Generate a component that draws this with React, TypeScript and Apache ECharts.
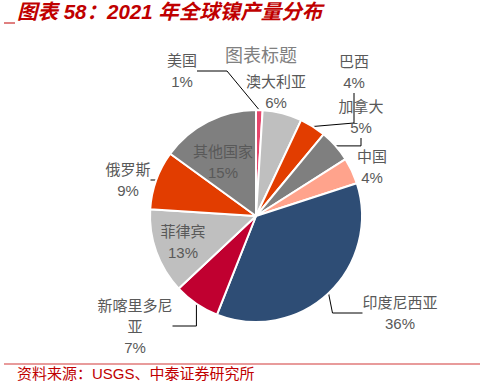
import React, { useEffect, useRef } from "react";
import * as echarts from "echarts";

const categories = ["美国", "澳大利亚", "巴西", "加拿大", "中国", "印度尼西亚", "新喀里多尼亚", "菲律宾", "俄罗斯", "其他国家"];
const shares = [1, 6, 4, 5, 4, 36, 7, 13, 9, 15];
const sliceColors = ["#e6456b", "#bfbfbf", "#e23d00", "#7f7f7f", "#ffa38c", "#2e4d75", "#c00030", "#bfbfbf", "#e23d00", "#7f7f7f"];
const noLeaderLabels = ["其他国家", "菲律宾", "澳大利亚", "中国"];
// label block centres (layout only)
const labelPos: [number, number][] = [
  [182, 71], [276, 92], [354, 72], [361, 117], [372, 167],
  [400, 313], [135, 326], [183, 242], [128, 180], [223, 162],
];

const mainTitle = "图表 58：2021 年全球镍产量分布";
const chartTitle = "图表标题";
const sourceText = "资料来源：USGS、中泰证券研究所";

const FONT = "'Liberation Sans', 'Noto Sans CJK SC', sans-serif";

export default function App() {
  const ref = useRef<HTMLDivElement>(null);
  useEffect(() => {
    document.body.style.margin = "0";
    const chart = echarts.init(ref.current!, null, { renderer: "svg" });
    chart.setOption({
      animation: false,
      backgroundColor: "#ffffff",
      title: {
        text: chartTitle,
        left: 256,
        top: 42,
        textAlign: "center",
        textStyle: { fontSize: 18, fontWeight: "normal", color: "#808080", fontFamily: FONT },
      },
      graphic: [
        {
          type: "text",
          left: 17,
          top: 1,
          style: {
            text: mainTitle,
            fontSize: 20.5,
            fontStyle: "italic",
            fontWeight: "bold",
            fill: "#c00000",
            fontFamily: FONT,
          },
        },
        { type: "line", shape: { x1: 4, y1: 23, x2: 15, y2: 23 }, style: { stroke: "#c00000", lineWidth: 1 } },
        { type: "line", shape: { x1: 4, y1: 364, x2: 480, y2: 364 }, style: { stroke: "#e07a7a", lineWidth: 1.5 } },
        {
          type: "text",
          left: 17,
          top: 366,
          style: { text: sourceText, fontSize: 15, fill: "#c00000", fontFamily: FONT },
        },
      ],
      series: [
        {
          type: "pie",
          center: [256, 216],
          radius: 106,
          startAngle: 90,
          clockwise: true,
          avoidLabelOverlap: false,
          itemStyle: { borderColor: "#ffffff", borderWidth: 2 },
          label: {
            show: true,
            position: "outside",
            color: "#595959",
            fontSize: 15,
            lineHeight: 21,
            fontFamily: FONT,
            align: "center",
            formatter: (p: any) => {
              const n: string = p.name;
              const name = n.length > 5 ? n.slice(0, 5) + "\n" + n.slice(5) : n;
              return name + "\n" + p.value + "%";
            },
          },
          labelLine: { show: true, lineStyle: { color: "#000000", width: 1 } },
          labelLayout: (params: any) => {
            const p = labelPos[params.dataIndex];
            return { x: p[0], y: p[1], align: "center", verticalAlign: "middle" };
          },
          data: categories.map((c, i) => ({
            name: c,
            value: shares[i],
            itemStyle: { color: sliceColors[i] },
            labelLine: { show: !noLeaderLabels.includes(c) },
          })),
        },
      ],
    });
    return () => chart.dispose();
  }, []);
  return <div ref={ref} style={{ width: 482, height: 384, position: "absolute", left: 0, top: 0 }} />;
}
